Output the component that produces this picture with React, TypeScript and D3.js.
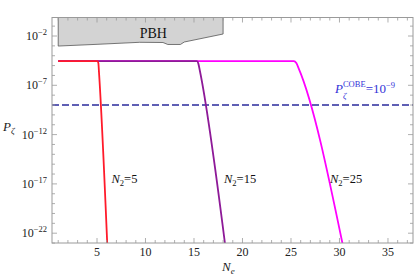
import React from "react";
import * as d3 from "d3";

// Curves: [N_e, log10 P_zeta]
const curveN2_5: [number, number][] = [
  [1, -4.55], [5.05, -4.55], [5.14, -4.75], [5.2, -5.6], [6.06, -23.2],
];
const curveN2_15: [number, number][] = [
  [1, -4.55], [15.3, -4.55], [15.45, -4.8], [15.6, -5.5], [18.2, -23.1],
];
const curveN2_25: [number, number][] = [
  [1, -4.55], [25.3, -4.55], [25.55, -4.75], [25.8, -5.3], [30.3, -23.0],
];
const pbhBoundary: [number, number][] = [
  [1, -3.02], [5.1, -2.84], [9.4, -2.64], [11.8, -2.66], [12.3, -2.86],
  [13.6, -2.86], [14.0, -2.61], [18.0, -1.8], [18.0, 0.5], [1, 0.5],
];
const cobeLevel = -9;
const xTicks = [5, 10, 15, 20, 25, 30, 35];
const yTicks = [-2, -7, -12, -17, -22];

const W = 417, H = 278;
const L = 52, R = 413, T = 17.5, B = 243;

export default function App() {
  const x = d3.scaleLinear().domain([0.36, 37.58]).range([L, R]);
  const y = d3.scaleLinear().domain([-2 + (36 - T) / 9.86, -2 - (B - 36) / 9.86]).range([T, B]);
  const line = d3.line<[number, number]>().x(d => x(d[0])).y(d => y(d[1])).curve(d3.curveMonotoneX);
  const poly = d3.line<[number, number]>().x(d => x(d[0])).y(d => y(d[1]));
  const frame = "#9a9a9a";
  const xMinor = d3.range(1, 38);
  const yMinor = d3.range(-23, 0);
  const st = { fontFamily: "Liberation Serif" };
  return (
    <svg width={W} height={H} style={{ position: "absolute", left: 0, top: 0, background: "white", fontFamily: "Liberation Serif" }}>
      <defs>
        <clipPath id="plot"><rect x={L} y={T} width={R - L} height={B - T} /></clipPath>
      </defs>
      <g clipPath="url(#plot)">
        <path d={poly(pbhBoundary) + "Z"} fill="#d3d3d3" stroke="#555" strokeWidth={0.8} />
        <line x1={L} x2={R} y1={y(cobeLevel)} y2={y(cobeLevel)} stroke="#2b2b9c" strokeWidth={1.5} strokeDasharray="7,3" />
        <path d={line(curveN2_25)!} fill="none" stroke="#ff00ff" strokeWidth={1.8} />
        <path d={line(curveN2_15)!} fill="none" stroke="#8e1a98" strokeWidth={1.8} />
        <path d={line(curveN2_5)!} fill="none" stroke="#ff1a2a" strokeWidth={1.8} />
      </g>
      <rect x={L} y={T} width={R - L} height={B - T} fill="none" stroke={frame} strokeWidth={1} />
      {xMinor.map(v => {
        const major = v % 5 === 0;
        const len = major ? 5 : 3;
        return (
          <g key={"xt" + v} stroke={frame} strokeWidth={0.8}>
            <line x1={x(v)} x2={x(v)} y1={B} y2={B - len} />
            <line x1={x(v)} x2={x(v)} y1={T} y2={T + len} />
          </g>
        );
      })}
      {yMinor.map(v => {
        const major = yTicks.includes(v);
        const len = major ? 5 : 3;
        return (
          <g key={"yt" + v} stroke={frame} strokeWidth={0.8}>
            <line x1={L} x2={L + len} y1={y(v)} y2={y(v)} />
            <line x1={R} x2={R - len} y1={y(v)} y2={y(v)} />
          </g>
        );
      })}
      {xTicks.map(v => (
        <text key={"xl" + v} x={x(v)} y={256} fontSize={12} textAnchor="middle" fill="#222" style={st}>{v}</text>
      ))}
      {yTicks.map(v => (
        <text key={"yl" + v} x={47} y={y(v) + 4} fontSize={12} textAnchor="end" fill="#222" style={st}>
          10<tspan fontSize={8.5} dy={-5}>{"\u2212" + Math.abs(v)}</tspan>
        </text>
      ))}
      <text x={3} y={131} fontSize={13} fontStyle="italic" fill="#222" style={st}>P<tspan fontSize={9} dy={3}>ζ</tspan></text>
      <text x={222} y={271} fontSize={13} fontStyle="italic" fill="#222" style={st}>N<tspan fontSize={9} dy={3}>e</tspan></text>
      <text x={x(9.4)} y={38} fontSize={14} fill="#111" style={st}>PBH</text>
      <text x={111.5} y={183} fontSize={12.5} fill="#111" style={st}><tspan fontStyle="italic">N</tspan><tspan fontSize={8.5} dy={3}>2</tspan><tspan dy={-3}>=5</tspan></text>
      <text x={224} y={183} fontSize={12.5} fill="#111" style={st}><tspan fontStyle="italic">N</tspan><tspan fontSize={8.5} dy={3}>2</tspan><tspan dy={-3}>=15</tspan></text>
      <text x={330} y={183} fontSize={12.5} fill="#111" style={st}><tspan fontStyle="italic">N</tspan><tspan fontSize={8.5} dy={3}>2</tspan><tspan dy={-3}>=25</tspan></text>
      <text x={335} y={93} fontSize={13} fill="#3232d8" style={st}>
        <tspan fontStyle="italic">P</tspan>
        <tspan fontSize={8.5} dy={-6}>COBE</tspan>
        <tspan fontSize={13} dy={6}>=10</tspan>
        <tspan fontSize={8.5} dy={-5}>{"\u22129"}</tspan>
      </text>
      <text x={343} y={99} fontSize={8.5} fontStyle="italic" fill="#3232d8" style={st}>ζ</text>
    </svg>
  );
}
